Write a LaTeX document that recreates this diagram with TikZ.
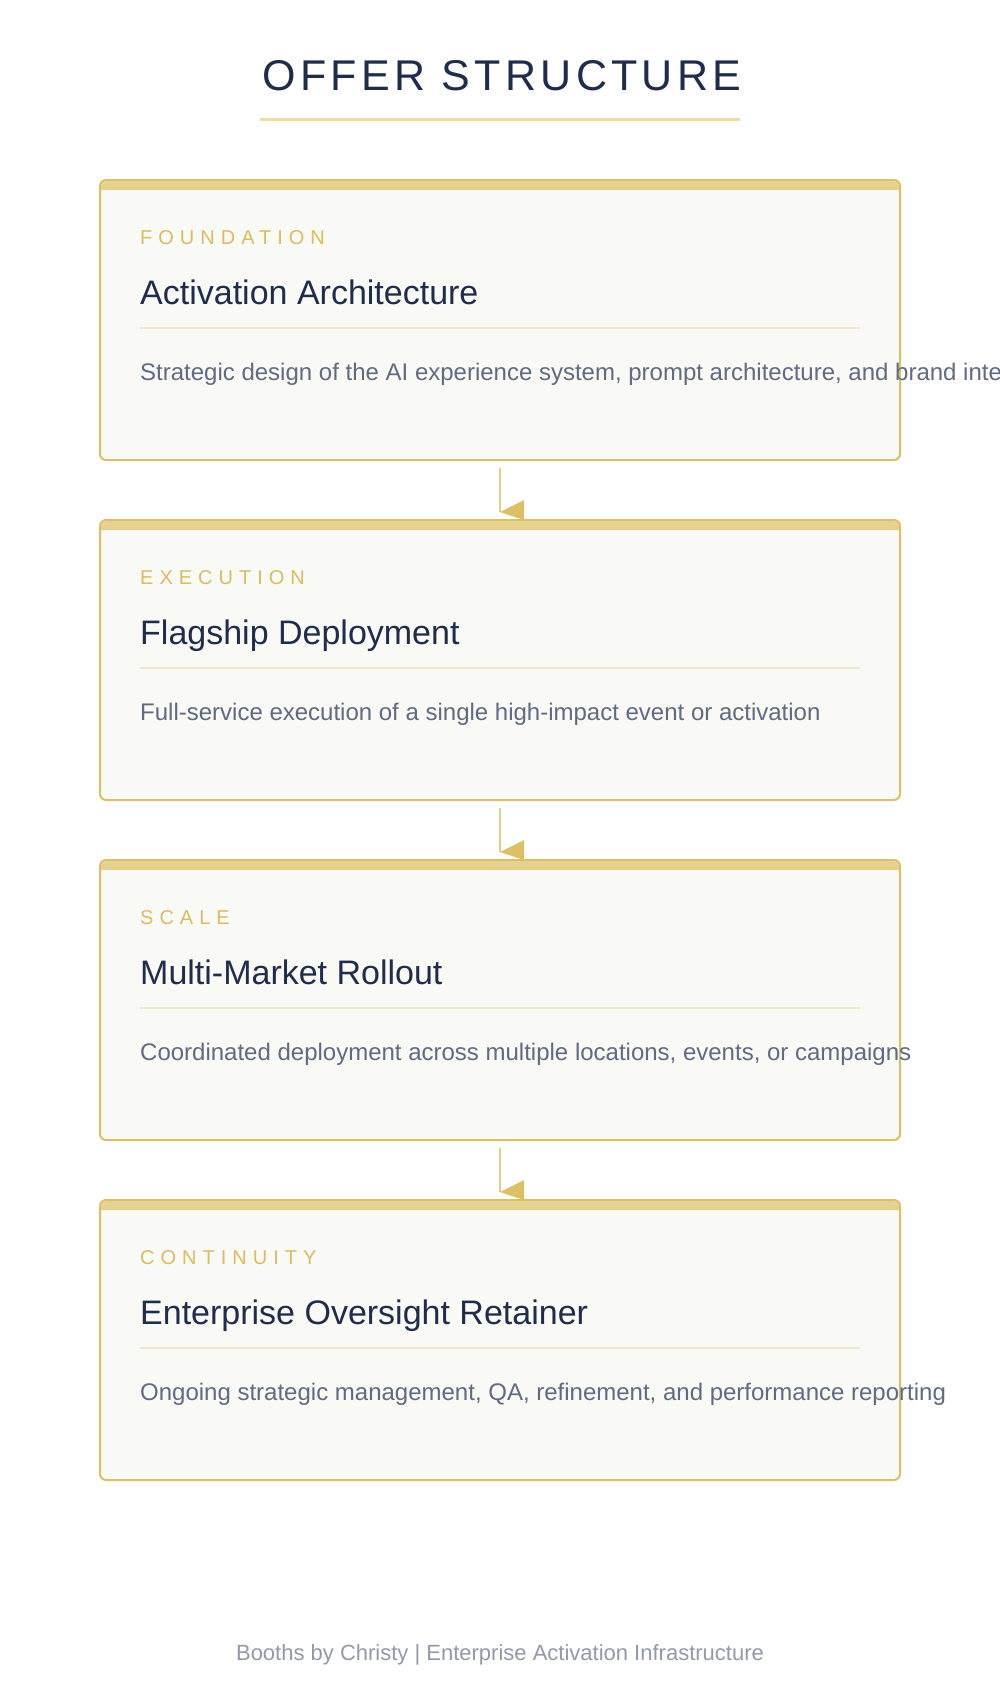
\documentclass[tikz,border=0pt]{standalone}
\usepackage{fontspec}
\setmainfont{Liberation Sans}
\newfontfamily\titlefont[LetterSpace=10]{Liberation Sans}
\newfontfamily\tagfont[LetterSpace=30]{Liberation Sans}
\usepackage{tikz}
\usetikzlibrary{positioning}
\definecolor{navy}{HTML}{1F2D4D}
\definecolor{gold}{HTML}{DDBF66}
\definecolor{goldbar}{HTML}{E7D18F}
\definecolor{goldtag}{HTML}{DDBB5F}
\definecolor{goldrule}{HTML}{F1E6C8}
\definecolor{goldline}{HTML}{EEDBA6}
\definecolor{cardfill}{HTML}{F9F9F5}
\definecolor{slate}{HTML}{5F6B82}
\definecolor{footgray}{HTML}{9399AC}
\tikzset{
    card/.style={
        rectangle,
        draw=gold,
        fill=cardfill,
        line width=2pt,
        rounded corners=6pt,
        minimum width=800pt,
        minimum height=280pt,
        outer sep=0pt
    },
    cardbar/.style={
        fill=goldbar
    },
    cardrule/.style={
        draw=goldrule,
        line width=2pt
    },
    tag/.style={
        anchor=base west,
        inner sep=0pt,
        text=goldtag,
        font=\tagfont\fontsize{20pt}{24pt}\selectfont
    },
    head/.style={
        anchor=base west,
        inner sep=0pt,
        text=navy,
        font=\fontsize{34pt}{40pt}\selectfont
    },
    desc/.style={
        anchor=base west,
        inner sep=0pt,
        text=slate,
        font=\fontsize{24pt}{28pt}\selectfont
    },
    flowline/.style={
        draw=gold!80,
        line width=2.5pt
    },
    flowtip/.style={
        fill=gold
    }
}

\begin{document}
\begin{tikzpicture}[x=1pt,y=-1pt,node distance=60pt]
    \fill[white] (0,0) rectangle (1000,1700);
    \useasboundingbox (0,0) rectangle (1000,1700);

    % title
    \node (title) [anchor=base, inner sep=0pt, text=navy, font=\titlefont\fontsize{43pt}{50pt}\selectfont] at (502,90) {OFFER STRUCTURE};
    \draw [goldline, line width=3pt] (260,119) -- (740,119);

    % connectors, behind the cards
    \coordinate (c1) at (500,468);
    \coordinate (c2) at (500,512);
    \coordinate (c3) at (500,808);
    \coordinate (c4) at (500,852);
    \coordinate (c5) at (500,1148);
    \coordinate (c6) at (500,1192);
    \draw [flowline] (c1) -- (c2);
    \fill [flowtip] (c2) -- ++(24,-12) -- ++(0,20) -- cycle;
    \draw [flowline] (c3) -- (c4);
    \fill [flowtip] (c4) -- ++(24,-12) -- ++(0,20) -- cycle;
    \draw [flowline] (c5) -- (c6);
    \fill [flowtip] (c6) -- ++(24,-12) -- ++(0,20) -- cycle;

    % cards
    \node (found) [card] at (500,320) {};
    \node (exec) [card, below=of found] {};
    \node (scale) [card, below=of exec] {};
    \node (cont) [card, below=of scale] {};

    \foreach \b in {found,exec,scale,cont} {
        \fill [cardbar] ([xshift=1pt,yshift=-10pt]\b.north west) [rounded corners=5pt] -- ([xshift=1pt,yshift=-1pt]\b.north west) -- ([xshift=-1pt,yshift=-1pt]\b.north east) [sharp corners] -- ([xshift=-1pt,yshift=-10pt]\b.north east) -- cycle;
        \draw [cardrule] ([xshift=40pt,yshift=-148pt]\b.north west) -- ([xshift=-40pt,yshift=-148pt]\b.north east);
    }

    \node (tag1) [tag] at ([xshift=40pt,yshift=-64pt]found.north west) {FOUNDATION};
    \node (head1) [head] at ([xshift=40pt,yshift=-124pt]found.north west) {Activation Architecture};
    \node (desc1) [desc] at ([xshift=40pt,yshift=-200pt]found.north west) {Strategic design of the AI experience system, prompt architecture, and brand inte};

    \node (tag2) [tag] at ([xshift=40pt,yshift=-64pt]exec.north west) {EXECUTION};
    \node (head2) [head] at ([xshift=40pt,yshift=-124pt]exec.north west) {Flagship Deployment};
    \node (desc2) [desc] at ([xshift=40pt,yshift=-200pt]exec.north west) {Full-service execution of a single high-impact event or activation};

    \node (tag3) [tag] at ([xshift=40pt,yshift=-64pt]scale.north west) {SCALE};
    \node (head3) [head] at ([xshift=40pt,yshift=-124pt]scale.north west) {Multi-Market Rollout};
    \node (desc3) [desc] at ([xshift=40pt,yshift=-200pt]scale.north west) {Coordinated deployment across multiple locations, events, or campaigns};

    \node (tag4) [tag] at ([xshift=40pt,yshift=-64pt]cont.north west) {CONTINUITY};
    \node (head4) [head] at ([xshift=40pt,yshift=-124pt]cont.north west) {Enterprise Oversight Retainer};
    \node (desc4) [desc] at ([xshift=40pt,yshift=-200pt]cont.north west) {Ongoing strategic management, QA, refinement, and performance reporting};

    % footer
    \node (foot) [anchor=base, inner sep=0pt, text=footgray, font=\fontsize{22pt}{26pt}\selectfont] at (500,1660) {Booths by Christy | Enterprise Activation Infrastructure};
\end{tikzpicture}
\end{document}
